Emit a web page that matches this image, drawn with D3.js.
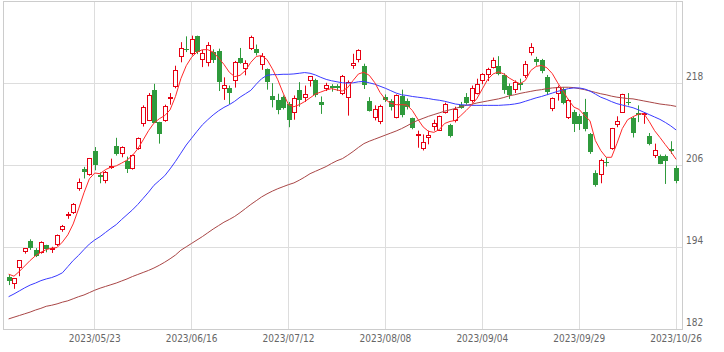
<!DOCTYPE html>
<html>
<head>
<meta charset="utf-8">
<script src="https://cdn.jsdelivr.net/npm/d3@7"></script>
<style>
html, body { margin: 0; padding: 0; background: #fff; }
svg { display: block; }
text { font-family: "DejaVu Sans Condensed", "DejaVu Sans", sans-serif; font-stretch: condensed; font-size: 10px; fill: #666; }
</style>
</head>
<body>
<svg id="chart"></svg>
<script>
// Daily candles, one per trading day.
let dates = [
    "2023/04/26", "2023/04/27", "2023/04/28", "2023/05/01", "2023/05/02", "2023/05/08", "2023/05/09", "2023/05/10",
    "2023/05/11", "2023/05/12", "2023/05/15", "2023/05/16", "2023/05/17", "2023/05/18", "2023/05/19", "2023/05/22",
    "2023/05/23", "2023/05/24", "2023/05/25", "2023/05/26", "2023/05/29", "2023/05/30", "2023/05/31", "2023/06/01",
    "2023/06/02", "2023/06/05", "2023/06/06", "2023/06/07", "2023/06/08", "2023/06/09", "2023/06/12", "2023/06/13",
    "2023/06/14", "2023/06/15", "2023/06/16", "2023/06/19", "2023/06/20", "2023/06/21", "2023/06/22", "2023/06/23",
    "2023/06/26", "2023/06/27", "2023/06/28", "2023/06/29", "2023/06/30", "2023/07/03", "2023/07/04", "2023/07/05",
    "2023/07/06", "2023/07/07", "2023/07/10", "2023/07/11", "2023/07/12", "2023/07/13", "2023/07/14", "2023/07/18",
    "2023/07/19", "2023/07/20", "2023/07/21", "2023/07/24", "2023/07/25", "2023/07/26", "2023/07/27", "2023/07/28",
    "2023/07/31", "2023/08/01", "2023/08/02", "2023/08/03", "2023/08/04", "2023/08/07", "2023/08/08", "2023/08/09",
    "2023/08/10", "2023/08/14", "2023/08/15", "2023/08/16", "2023/08/17", "2023/08/18", "2023/08/21", "2023/08/22",
    "2023/08/23", "2023/08/24", "2023/08/25", "2023/08/28", "2023/08/29", "2023/08/30", "2023/08/31", "2023/09/01",
    "2023/09/04", "2023/09/05", "2023/09/06", "2023/09/07", "2023/09/08", "2023/09/11", "2023/09/12", "2023/09/13",
    "2023/09/14", "2023/09/15", "2023/09/19", "2023/09/20", "2023/09/21", "2023/09/22", "2023/09/25", "2023/09/26",
    "2023/09/27", "2023/09/28", "2023/09/29", "2023/10/02", "2023/10/03", "2023/10/04", "2023/10/05", "2023/10/06",
    "2023/10/10", "2023/10/11", "2023/10/12", "2023/10/13", "2023/10/16", "2023/10/17", "2023/10/18", "2023/10/19",
    "2023/10/20", "2023/10/23", "2023/10/24", "2023/10/25", "2023/10/26"
];

let opens = [
    189.65, 188.7, 191.0, 193.3, 195.0, 193.7, 193.3, 194.3, 193.8, 194.4, 196.7, 198.6, 199.1, 202.6, 205.5, 204.6,
    208.05, 204.6, 203.8, 205.8, 208.9, 207.7, 206.7, 205.6, 208.4, 212.1, 212.7, 217.1, 212.3, 212.6, 215.8, 217.6,
    221.95, 223.0, 222.35, 224.9, 221.5, 221.0, 222.6, 222.8, 217.3, 217.3, 218.4, 221.8, 220.15, 223.1, 223.1, 220.8,
    220.15, 216.1, 215.6, 216.0, 215.0, 213.65, 217.0, 216.0, 218.35, 218.45, 215.35, 217.3, 217.7, 217.7, 216.5, 216.0,
    220.6, 221.55, 220.6, 215.5, 213.05, 212.5, 216.0, 215.4, 213.05, 216.1, 215.5, 212.9, 210.5, 208.45, 210.1, 211.6,
    211.2, 213.8, 212.0, 212.5, 214.9, 216.0, 215.4, 216.5, 218.35, 219.2, 220.4, 220.5, 219.2, 217.7, 217.2, 218.05,
    219.1, 222.45, 221.6, 221.5, 218.9, 214.3, 216.5, 217.2, 213.05, 213.9, 213.2, 213.8, 210.55, 204.9, 204.7, 206.55,
    208.45, 212.0, 213.8, 215.25, 213.0, 213.65, 213.45, 210.25, 207.45, 207.45, 207.45, 208.45, 205.65
];
let highs = [
    190.0, 189.5, 192.1, 193.9, 195.2, 193.9, 194.9, 194.4, 194.1, 195.9, 197.3, 199.2, 200.5, 204.1, 205.8, 207.1,
    208.7, 205.0, 205.2, 207.0, 210.05, 208.8, 207.3, 207.6, 210.1, 214.8, 216.6, 217.95, 212.4, 214.9, 216.6, 220.6,
    224.05, 224.9, 225.0, 225.0, 222.9, 224.05, 223.0, 223.1, 218.9, 217.7, 221.3, 223.2, 221.4, 225.0, 223.7, 222.45,
    220.2, 218.05, 216.5, 216.25, 215.3, 216.25, 218.2, 217.7, 219.1, 218.7, 216.1, 218.1, 217.9, 217.9, 219.25, 218.45,
    222.35, 223.0, 220.9, 216.0, 214.8, 214.9, 216.4, 215.7, 216.4, 217.1, 215.8, 213.0, 211.1, 210.55, 211.1, 212.7,
    213.3, 215.2, 212.1, 214.6, 215.3, 216.6, 217.7, 218.7, 219.5, 220.3, 221.8, 222.0, 219.5, 218.0, 218.45, 218.7,
    221.3, 223.9, 221.9, 221.6, 219.25, 215.95, 217.7, 217.45, 215.75, 214.15, 213.55, 215.75, 210.75, 205.3, 207.0, 207.15,
    211.5, 213.2, 216.5, 216.6, 213.1, 214.8, 213.8, 210.75, 209.2, 207.6, 207.6, 209.55, 206.0
];
let lows = [
    188.5, 187.95, 189.8, 193.1, 193.65, 192.6, 193.1, 193.3, 193.2, 194.2, 196.3, 198.2, 198.9, 202.3, 204.1, 204.5,
    205.3, 203.4, 203.4, 205.5, 207.45, 207.2, 204.9, 205.4, 208.3, 211.7, 212.5, 212.3, 209.2, 212.4, 214.9, 217.3,
    221.1, 222.6, 222.1, 222.3, 220.4, 220.5, 221.0, 216.9, 215.6, 215.0, 217.4, 220.9, 219.2, 222.9, 222.1, 220.0,
    217.1, 214.5, 213.5, 214.2, 211.6, 212.7, 214.6, 215.3, 217.55, 216.0, 213.55, 216.9, 216.8, 216.9, 216.3, 213.3,
    220.15, 221.1, 217.2, 213.9, 212.6, 212.05, 215.3, 214.05, 212.9, 213.05, 214.2, 211.3, 208.6, 208.2, 209.1, 211.1,
    211.1, 213.6, 210.1, 212.3, 214.3, 214.9, 215.2, 216.4, 217.9, 218.35, 220.2, 219.2, 216.5, 215.75, 216.6, 217.0,
    218.8, 222.1, 220.6, 219.5, 216.3, 213.95, 215.5, 214.95, 212.8, 210.9, 211.2, 211.0, 207.7, 202.9, 203.4, 205.85,
    208.3, 211.6, 213.7, 214.8, 210.1, 212.35, 212.1, 208.95, 207.1, 206.2, 203.3, 207.7, 203.4
];
let closes = [
    189.05, 189.4, 192.05, 193.8, 194.0, 192.8, 194.7, 193.7, 193.9, 195.75, 197.1, 198.8, 200.3, 203.5, 205.0, 207.0,
    206.0, 204.3, 205.0, 205.9, 207.8, 208.6, 205.6, 207.45, 209.9, 214.45, 216.3, 212.3, 210.5, 214.7, 215.9, 219.9,
    223.1, 222.9, 224.4, 222.5, 222.35, 223.5, 221.4, 218.2, 217.7, 216.6, 221.1, 221.1, 220.9, 224.7, 222.45, 222.0,
    218.2, 215.5, 214.15, 214.45, 212.6, 215.75, 215.5, 216.4, 219.0, 216.25, 214.95, 217.7, 217.35, 217.4, 219.0, 218.2,
    220.9, 222.9, 217.85, 214.05, 214.25, 214.7, 215.5, 214.45, 216.2, 213.3, 214.55, 211.5, 210.6, 209.4, 210.4, 212.1,
    213.2, 214.9, 210.4, 214.15, 214.45, 215.1, 217.2, 217.85, 219.3, 220.0, 221.4, 219.4, 217.0, 216.4, 218.2, 217.7,
    220.75, 223.2, 221.2, 219.9, 216.7, 215.75, 217.45, 215.1, 215.5, 212.2, 212.0, 211.3, 207.95, 203.1, 206.8, 206.45,
    211.35, 212.5, 216.4, 215.15, 210.75, 213.3, 213.65, 209.1, 208.2, 206.35, 206.7, 208.1, 203.7
];

// Moving averages (short, medium, long).
let maShort = [
    190.1, 189.8, 190.5, 191.3, 192.1, 192.8, 193.3, 193.7, 193.9, 194.0, 194.8, 195.85, 197.45, 199.65, 202.0, 204.05,
    204.9, 204.8, 205.4, 205.75, 205.95, 206.35, 206.8, 207.45, 208.45, 209.75, 211.1, 212.2, 212.85, 213.3, 214.15, 216.1,
    218.7, 220.6, 221.85, 222.6, 222.95, 222.95, 222.6, 221.75, 220.8, 219.65, 219.0, 219.2, 219.9, 221.1, 221.95, 222.1,
    221.5, 220.15, 218.55, 216.6, 214.9, 214.6, 214.9, 215.35, 215.9, 216.45, 216.75, 217.05, 217.25, 217.05, 216.9, 217.4,
    218.45, 219.4, 219.65, 219.2, 218.15, 216.7, 215.65, 215.1, 214.9, 214.9, 214.85, 214.05, 212.8, 211.65, 211.0, 210.85,
    211.25, 212.15, 212.45, 212.6, 213.3, 214.05, 214.85, 215.8, 217.2, 218.6, 219.4, 219.7, 219.4, 218.8, 218.35, 217.95,
    218.45, 219.9, 220.5, 220.65, 220.3, 219.45, 218.1, 216.9, 215.6, 214.55, 214.2, 213.3, 212.55, 209.65, 208.2, 207.2,
    207.2, 209.2, 211.4, 212.7, 213.15, 213.5, 213.6, 212.45, 211.1, 210.1, 209.05, 208.05, 206.9
];
let maMid = [
    186.8, 187.2, 187.65, 188.1, 188.5, 188.8, 189.15, 189.4, 189.6, 189.9, 190.3, 191.2, 192.1, 192.85, 193.7, 194.5,
    195.1, 195.6, 196.2, 196.8, 197.35, 198.1, 198.8, 199.5, 200.3, 201.2, 202.1, 203.1, 203.8, 204.5, 205.5, 206.6,
    207.8, 209.0, 210.0, 211.0, 211.95, 212.7, 213.4, 214.0, 214.5, 214.9, 215.4, 216.0, 216.5, 217.0, 217.9, 218.7,
    219.2, 219.3, 219.3, 219.35, 219.35, 219.4, 219.5, 219.6, 219.5, 219.25, 218.9, 218.6, 218.4, 218.25, 218.1, 218.05,
    218.1, 218.25, 218.3, 218.1, 217.9, 217.6, 217.3, 216.95, 216.6, 216.35, 216.25, 216.1, 216.0, 215.9, 215.8, 215.65,
    215.55, 215.4, 215.2, 215.0, 214.9, 214.85, 214.8, 214.8, 214.8, 214.8, 214.8, 214.8, 214.85, 214.9, 215.0, 215.15,
    215.4, 215.65, 215.9, 216.1, 216.35, 216.6, 216.85, 217.05, 217.25, 217.35, 217.35, 217.2, 216.9, 216.45, 216.0, 215.7,
    215.35, 215.05, 214.85, 214.65, 214.45, 214.15, 213.8, 213.45, 213.1, 212.75, 212.3, 211.8, 211.2
];
let maLong = [
    183.55, 183.8, 184.05, 184.3, 184.55, 184.85, 185.1, 185.4, 185.55, 185.75, 186.0, 186.2, 186.5, 186.8, 187.05, 187.4,
    187.75, 188.05, 188.3, 188.55, 188.8, 189.1, 189.4, 189.75, 190.05, 190.35, 190.65, 191.0, 191.4, 191.85, 192.35, 192.9,
    193.6, 194.1, 194.6, 195.1, 195.6, 196.15, 196.7, 197.2, 197.7, 198.1, 198.55, 199.1, 199.7, 200.3, 200.85, 201.4,
    201.85, 202.25, 202.6, 202.9, 203.2, 203.45, 203.85, 204.3, 204.8, 205.15, 205.5, 205.85, 206.3, 206.7, 207.0, 207.5,
    208.05, 208.65, 209.2, 209.55, 209.85, 210.15, 210.45, 210.75, 211.05, 211.4, 211.8, 212.25, 212.6, 212.9, 213.2, 213.45,
    213.7, 213.95, 214.15, 214.35, 214.6, 214.8, 214.95, 215.15, 215.3, 215.45, 215.6, 215.75, 215.95, 216.2, 216.35, 216.55,
    216.7, 216.85, 217.0, 217.1, 217.25, 217.35, 217.4, 217.45, 217.45, 217.4, 217.25, 217.1, 216.9, 216.7, 216.5, 216.35,
    216.15, 216.0, 215.9, 215.8, 215.75, 215.6, 215.45, 215.3, 215.15, 215.0, 214.9, 214.8, 214.65
];

let priceTicks = [182, 194, 206, 218];
let dateTicks = ["2023/05/23", "2023/06/16", "2023/07/12", "2023/08/08", "2023/09/04", "2023/09/29", "2023/10/26"];

let svgWidth = 724;
let svgHeight = 352;
let frame = {left: 3.5, top: 1.5, right: 682.5, bottom: 329.5};
let upColor = "#e60012";
let downColor = "#2f9a3c";
let gridColor = "#dddddd";

let svg = d3.select("#chart")
    .attr("width", svgWidth)
    .attr("height", svgHeight)
    .attr("viewBox", [0, 0, svgWidth, svgHeight]);

let xScale = d3.scalePoint()
    .domain(dates)
    .range([8.6, 676.1]);
let yScale = d3.scaleLinear()
    .domain([182, 230])
    .range([frame.bottom, frame.top]);

let crisp = v => Math.round(v - 0.5) + 0.5;

// Grid.
let grid = svg.append("g").attr("class", "grid");
grid.selectAll("line.h")
    .data(priceTicks)
    .join("line")
    .attr("class", "h")
    .attr("x1", frame.left)
    .attr("x2", frame.right)
    .attr("y1", d => crisp(yScale(d)))
    .attr("y2", d => crisp(yScale(d)))
    .attr("stroke", gridColor);
grid.selectAll("line.v")
    .data(dateTicks)
    .join("line")
    .attr("class", "v")
    .attr("x1", d => crisp(xScale(d)))
    .attr("x2", d => crisp(xScale(d)))
    .attr("y1", frame.top)
    .attr("y2", frame.bottom)
    .attr("stroke", gridColor);
svg.append("rect")
    .attr("x", frame.left)
    .attr("y", frame.top)
    .attr("width", frame.right - frame.left)
    .attr("height", frame.bottom - frame.top)
    .attr("fill", "none")
    .attr("stroke", "#cccccc");

// Price labels on the right, date labels below.
svg.append("g")
    .selectAll("text")
    .data(priceTicks)
    .join("text")
    .attr("x", 686)
    .attr("y", d => yScale(d) - 3.5)
    .text(d => d);
svg.append("g")
    .selectAll("text")
    .data(dateTicks)
    .join("text")
    .attr("x", d => xScale(d))
    .attr("y", 342)
    .attr("text-anchor", "middle")
    .text(d => d);

// Candles.
let candles = svg.append("g")
    .selectAll("g")
    .data(dates.map((d, i) => ({date: d, o: opens[i], h: highs[i], l: lows[i], c: closes[i]})))
    .join("g");

candles.append("line")
    .attr("x1", d => Math.round(xScale(d.date)) + 0.5)
    .attr("x2", d => Math.round(xScale(d.date)) + 0.5)
    .attr("y1", d => yScale(d.h))
    .attr("y2", d => yScale(d.l))
    .attr("stroke", d => d.c >= d.o ? upColor : downColor);

candles.filter(d => d.c >= d.o)
    .append("rect")
    .attr("x", d => Math.round(xScale(d.date)) - 1.5)
    .attr("y", d => crisp(yScale(d.c)))
    .attr("width", 4)
    .attr("height", d => Math.max(1, Math.round(yScale(d.o) - yScale(d.c))))
    .attr("fill", "#ffffff")
    .attr("stroke", upColor);

candles.filter(d => d.c < d.o)
    .append("rect")
    .attr("x", d => Math.round(xScale(d.date)) - 2)
    .attr("y", d => Math.round(yScale(d.o)))
    .attr("width", 5)
    .attr("height", d => Math.max(1, Math.round(yScale(d.c) - yScale(d.o))))
    .attr("fill", downColor);

// Moving average lines.
let maLine = values => d3.line()
    .x((d, i) => xScale(dates[i]))
    .y(d => yScale(d))(values);

[
    {values: maLong, color: "#a94646"},
    {values: maMid, color: "#3a3aff"},
    {values: maShort, color: "#ff2a2a"}
].forEach(s => {
    svg.append("path")
        .attr("d", maLine(s.values))
        .attr("fill", "none")
        .attr("stroke", s.color)
        .attr("stroke-width", 1);
});
</script>
</body>
</html>
